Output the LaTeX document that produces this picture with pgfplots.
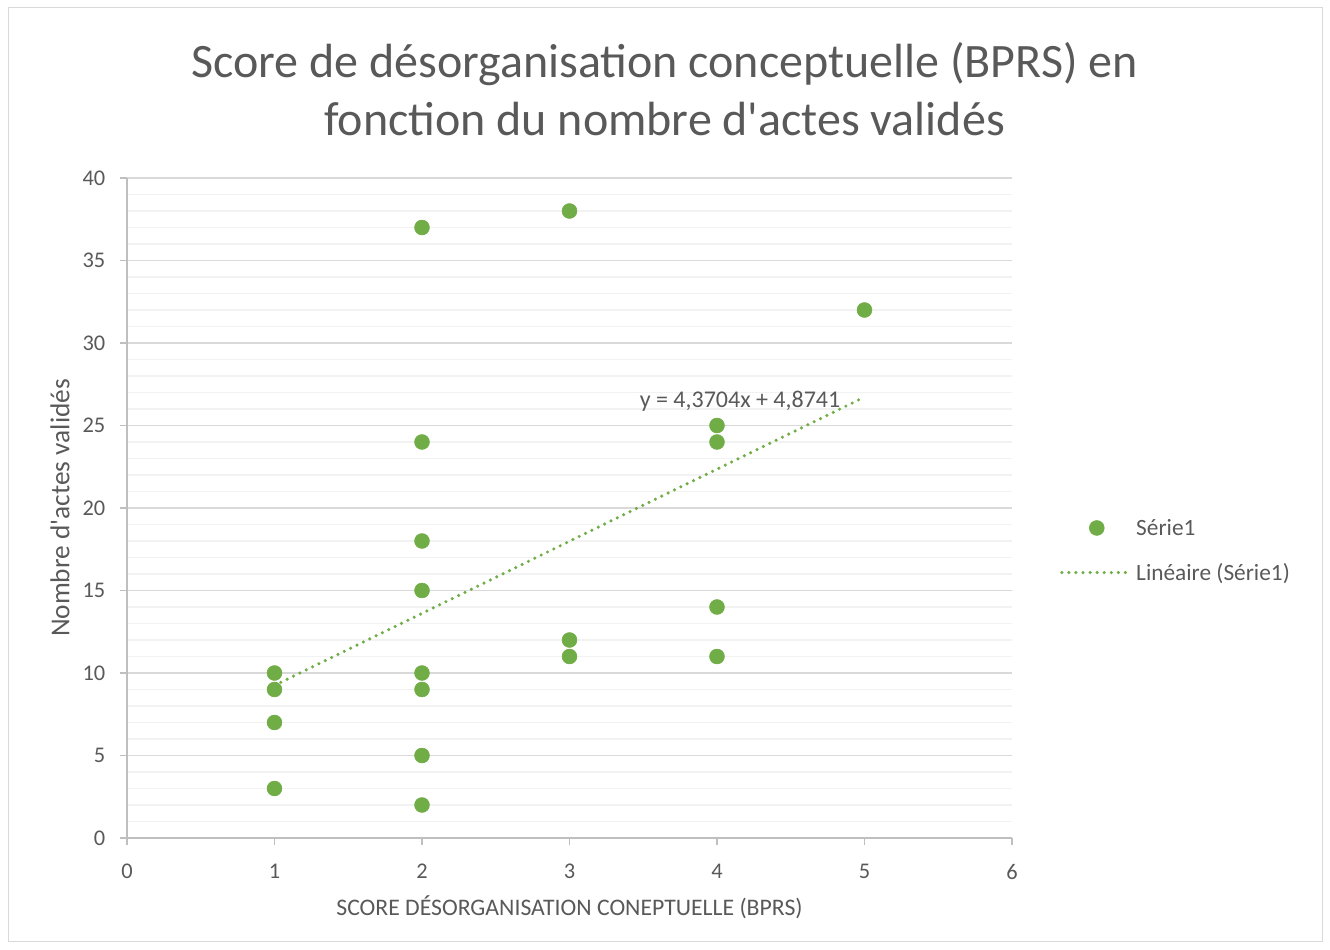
\documentclass[border=0pt]{standalone}
\usepackage{pgfplots}
\pgfplotsset{compat=1.18}
\usepackage{fontspec}
\setmainfont{Carlito}
\definecolor{grn}{HTML}{70AD47}
\definecolor{txt}{HTML}{595959}
\definecolor{majg}{HTML}{D9D9D9}
\definecolor{ming}{HTML}{F2F2F2}
\definecolor{axl}{HTML}{BFBFBF}
\begin{document}
\begin{tikzpicture}[x=0.75pt,y=0.75pt]
\path[use as bounding box] (0,0) rectangle (1330,949);
\draw[draw=majg, line width=0.75pt] (8,8) rectangle (1322,941);
\node[font=\fontsize{36}{43.5}\selectfont, text=txt, align=center] at (664.5,860) {Score de désorganisation conceptuelle (BPRS) en\\fonction du nombre d\textquotesingle actes validés};
\node[font=\fontsize{17.8}{21}\selectfont, text=txt] at (569.5,42) {SCORE DÉSORGANISATION CONEPTUELLE (BPRS)};
\node[font=\fontsize{20.5}{24}\selectfont, text=txt, rotate=90] at (60,441) {Nombre d\textquotesingle actes validés};
\begin{axis}[
  at={(95.25pt,83.25pt)}, anchor=origin,
  scale only axis, width=663.75pt, height=495pt,
  xmin=0, xmax=6, ymin=0, ymax=40,
  xtick={0,1,...,6}, ytick={0,5,...,40},
  minor y tick num=4,
  axis x line*=bottom, axis y line*=left,
  axis line style={draw=axl, line width=0.9pt, -},
  tick align=outside, major tick length=5.25pt, minor tick length=0pt,
  tick style={draw=axl, line width=0.9pt},
  xtick pos=bottom, ytick pos=left,
  ymajorgrids, yminorgrids,
  major grid style={draw=majg, line width=0.9pt},
  minor grid style={draw=ming, line width=0.9pt},
  /pgf/number format/assume math mode=true,
  ticklabel style={font=\fontsize{16.8}{20}\selectfont, text=txt},
  xticklabel style={yshift=-11pt},
  yticklabel style={xshift=-7.5pt},
  legend style={at={(1.054,0.4356)}, anchor=west, draw=none, fill=none,
    font=\fontsize{17.5}{21}\selectfont, text=txt, inner sep=0pt, row sep=15.5pt,
    cells={anchor=west}},
  clip=false,
]
\addplot[only marks, mark=*, mark size=5.6pt, mark options={draw=grn, fill=grn},
  legend image code/.code={\fill[grn] (26.25pt,0pt) circle (5.6pt);}]
  coordinates {
  (1,10) (1,9) (1,7) (1,3)
  (2,37) (2,24) (2,18) (2,15) (2,10) (2,9) (2,5) (2,2)
  (3,38) (3,12) (3,11)
  (4,25) (4,24) (4,14) (4,11)
  (5,32)
  };
\addlegendentry{Série1}
\addplot[grn, line width=2.6pt, line cap=round, dash pattern=on 0pt off 5.3pt,
  legend image code/.code={\draw[grn, line width=2.6pt, line cap=round, dash pattern=on 0pt off 5.3pt] (0pt,0pt) -- (52.5pt,0pt);}]
  coordinates {(1,9.2445) (5,26.7261)};
\addlegendentry{Linéaire (Série1)}
\node[font=\fontsize{18}{21}\selectfont, text=txt] at (axis cs:4.156,26.48) {y = 4,3704x + 4,8741};
\end{axis}
\end{tikzpicture}
\end{document}
